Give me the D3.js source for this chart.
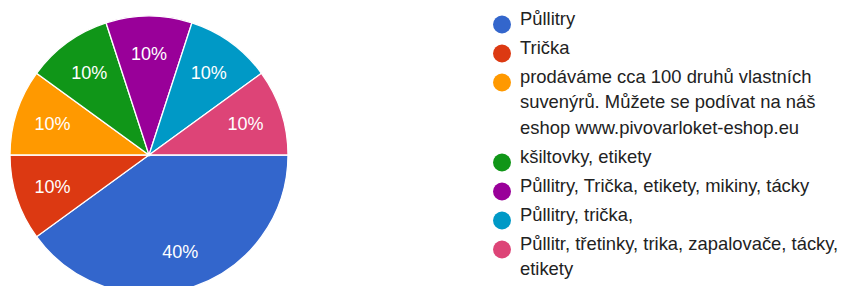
<!DOCTYPE html>
<html>
<head>
<meta charset="utf-8">
<script src="https://cdn.jsdelivr.net/npm/d3@7/dist/d3.min.js"></script>
<style>
  html, body { margin: 0; padding: 0; background: #fff; }
  svg { display: block; }
  text { font-family: Arial, "Liberation Sans", sans-serif; }
</style>
</head>
<body>
<svg id="chart" width="841" height="286"></svg>
<script>
const categories = [
  "Půllitry",
  "Trička",
  "prodáváme cca 100 druhů vlastních suvenýrů. Můžete se podívat na náš eshop www.pivovarloket-eshop.eu",
  "kšiltovky, etikety",
  "Půllitry, Trička, etikety, mikiny, tácky",
  "Půllitry, trička,",
  "Půllitr, třetinky, trika, zapalovače, tácky, etikety"
];
const values = [4, 1, 1, 1, 1, 1, 1];
const colors = ["#3366cc", "#dc3912", "#ff9900", "#109618", "#990099", "#0099c6", "#dd4477"];

const svg = d3.select("#chart");
const cx = 149, cy = 155, r = 139;
const total = d3.sum(values);

const pie = d3.pie().sort(null).value(d => d.v)
  .startAngle(Math.PI / 2).endAngle(Math.PI / 2 + 2 * Math.PI);
const data = values.map((v, i) => ({ v, i }));
const arcs = pie(data);
const arc = d3.arc().innerRadius(0).outerRadius(r);
const labelArc = d3.arc().innerRadius(r * 0.73).outerRadius(r * 0.73);

const g = svg.append("g").attr("transform", `translate(${cx},${cy})`);
g.selectAll("path").data(arcs).join("path")
  .attr("d", arc)
  .attr("fill", d => colors[d.data.i])
  .attr("stroke", "#fff")
  .attr("stroke-width", 1.3);

const fmt = d3.format(".0%");
g.selectAll("text.lbl").data(arcs).join("text")
  .attr("class", "lbl")
  .attr("transform", d => `translate(${labelArc.centroid(d)})`)
  .attr("text-anchor", "middle")
  .attr("dy", "0.36em")
  .attr("fill", "#fff")
  .attr("font-size", 18)
  .text(d => fmt(d.data.v / total));

// Legend
const lx = 502, textX = 520, startY = 24.5, itemGap = 29, lineH = 25.5, maxW = 330;
const leg = svg.append("g");
let y = startY;
categories.forEach((c, i) => {
  leg.append("circle").attr("cx", lx).attr("cy", y).attr("r", 9).attr("fill", colors[i]);
  const t = leg.append("text").attr("x", textX).attr("y", y).attr("dy", "0.35em")
    .attr("fill", "#222").attr("font-size", 18.4);
  const words = c.split(" ");
  let line = [];
  let tspan = t.append("tspan").attr("x", textX).attr("dy", 0);
  let lines = 1;
  words.forEach(w => {
    line.push(w);
    tspan.text(line.join(" "));
    if (tspan.node().getComputedTextLength() > maxW && line.length > 1) {
      line.pop();
      tspan.text(line.join(" "));
      line = [w];
      tspan = t.append("tspan").attr("x", textX).attr("dy", lineH).text(w);
      lines++;
    }
  });
  y += (lines - 1) * lineH + itemGap;
});
</script>
</body>
</html>
